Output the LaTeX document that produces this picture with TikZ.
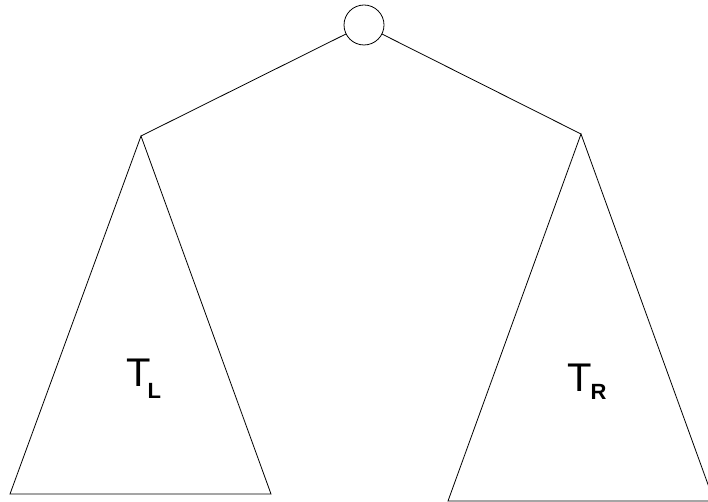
\documentclass[tikz,border=0pt]{standalone}
\usepackage{fontspec}
\setmainfont{Liberation Sans}
\begin{document}
\begin{tikzpicture}[x=1pt,y=-1pt,
  edge/.style={line width=0.8pt,black},
  lbl/.style={anchor=base west,inner sep=0pt,font=\fontsize{40}{40}\selectfont}]
\useasboundingbox (0,0) rectangle (708,502);
\clip (0,0) rectangle (708,502);
\node[draw,circle,line width=0.8pt,minimum size=40pt,inner sep=0pt] (root) at (364,25) {};
\coordinate (la) at (141,136);
\coordinate (ra) at (581,134);
\coordinate (lb1) at (10,494);
\coordinate (lb2) at (271,494);
\coordinate (rb1) at (448,501);
\coordinate (rb2) at (714,501);
\draw[edge] (root) -- (la);
\draw[edge] (root) -- (ra);
\draw[edge] (la) -- (lb1) -- (lb2) -- cycle;
\draw[edge] (ra) -- (rb1) -- (rb2) -- cycle;
\node[lbl] (tl) at (126,386) {T\kern-3pt\raisebox{-12pt}{\fontsize{22}{22}\selectfont\bfseries L}};
\node[lbl] (tr) at (567,391) {T\kern-1pt\raisebox{-8pt}{\fontsize{22}{22}\selectfont\bfseries R}};
\end{tikzpicture}
\end{document}
